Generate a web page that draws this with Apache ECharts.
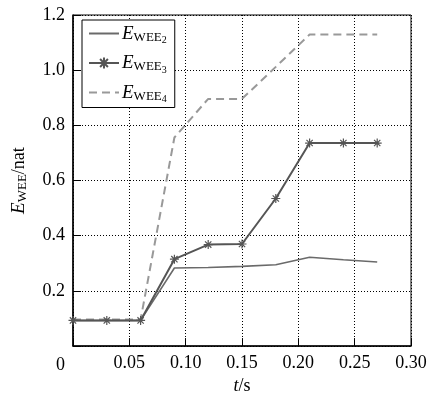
<!DOCTYPE html>
<html>
<head>
<meta charset="utf-8">
<script src="https://cdn.jsdelivr.net/npm/echarts@6/dist/echarts.min.js"></script>
<style>
  html, body { margin: 0; padding: 0; background: #fff; }
  #chart { width: 430px; height: 400px; }
</style>
</head>
<body>
<div id="chart"></div>
<script>
// time axis (s)
var tValues = [0, 0.03, 0.06, 0.09, 0.12, 0.15, 0.18, 0.21, 0.24, 0.27];
// wavelet energy entropy, nat
var wee2 = [0.093, 0.093, 0.093, 0.283, 0.285, 0.289, 0.295, 0.322, 0.313, 0.305];
var wee3 = [0.093, 0.093, 0.093, 0.315, 0.368, 0.370, 0.535, 0.736, 0.736, 0.736];
var wee4 = [0.096, 0.096, 0.096, 0.756, 0.896, 0.896, 1.012, 1.129, 1.129, 1.129];
var xTicks = [0, 0.05, 0.10, 0.15, 0.20, 0.25, 0.30];
var yTicks = [0, 0.2, 0.4, 0.6, 0.8, 1.0, 1.2];
var seriesNames = ["WEE2", "WEE3", "WEE4"];

function pairs(ys) {
  var out = [];
  for (var i = 0; i < tValues.length; i++) {
    out.push([tValues[i], ys[i]]);
  }
  return out;
}

var font = "Liberation Serif";
var star = "path://M0,-10L0,10M-10,0L10,0M-7,-7L7,7M-7,7L7,-7";
var hidden = { color: "transparent", borderColor: "transparent", borderWidth: 0 };

var legendRich = {
  e: { fontFamily: font, fontSize: 19, fontStyle: "italic", color: "#000", lineHeight: 22 },
  s: { fontFamily: font, fontSize: 13, color: "#000", padding: [8, 0, 0, 0] },
  d: { fontFamily: font, fontSize: 10, color: "#000", padding: [14, 0, 0, 0] }
};

var option = {
  animation: false,
  grid: {
    left: 73, right: 19, top: 15, bottom: 47,
    show: true, borderColor: "#000", borderWidth: 1, backgroundColor: "#fff"
  },
  legend: {
    orient: "vertical",
    left: 82, top: 20,
    padding: [4, 8, 3, 6],
    itemWidth: 30, itemHeight: 14, itemGap: 8,
    backgroundColor: "#fff",
    borderColor: "#000", borderWidth: 1,
    data: [
      { name: seriesNames[0], itemStyle: hidden },
      { name: seriesNames[1] },
      { name: seriesNames[2], itemStyle: hidden }
    ],
    formatter: function (name) {
      return "{e|E}{s|WEE}{d|" + name.slice(3) + "}";
    },
    textStyle: { rich: legendRich, padding: [0, 0, 0, -2] }
  },
  xAxis: {
    type: "value",
    min: 0, max: 0.3, interval: 0.05,
    name: "{i|t}{n|/s}",
    nameLocation: "middle",
    nameGap: 28,
    nameTextStyle: {
      rich: {
        i: { fontFamily: font, fontSize: 18, fontStyle: "italic", color: "#000" },
        n: { fontFamily: font, fontSize: 18, color: "#000" }
      }
    },
    axisLine: { lineStyle: { color: "#000", width: 1.5 } },
    axisTick: { inside: true, length: 8, lineStyle: { color: "#000" } },
    axisLabel: {
      fontFamily: font, fontSize: 18, color: "#000", margin: 8,
      formatter: function (v) {
        if (v === 0) return "";
        return v.toFixed(2);
      }
    },
    splitLine: { show: true, lineStyle: { color: "#000", type: [1, 2], width: 1 } }
  },
  yAxis: {
    type: "value",
    min: 0, max: 1.2, interval: 0.2,
    name: "{e|E}{s|WEE}{n|/nat}",
    nameLocation: "middle",
    nameRotate: 90,
    nameGap: 43,
    nameTextStyle: {
      rich: {
        e: { fontFamily: font, fontSize: 19, fontStyle: "italic", color: "#000", lineHeight: 22 },
        s: { fontFamily: font, fontSize: 13, color: "#000", padding: [8, 0, 0, 0] },
        n: { fontFamily: font, fontSize: 18, color: "#000" }
      }
    },
    axisLine: { show: true, lineStyle: { color: "#000", width: 1.5 } },
    axisTick: { show: true, inside: true, length: 8, lineStyle: { color: "#000" } },
    axisLabel: {
      fontFamily: font, fontSize: 18, color: "#000", margin: 8,
      formatter: function (v) {
        if (v === 0) return "{a| }{z|0}";
        return v.toFixed(1);
      },
      rich: {
        a: { fontSize: 1, lineHeight: 56, width: 0 },
        z: { fontFamily: font, fontSize: 18, color: "#000", lineHeight: 18, verticalAlign: "bottom" }
      }
    },
    splitLine: { show: true, lineStyle: { color: "#000", type: [1, 2], width: 1 } }
  },
  series: [
    {
      name: seriesNames[0],
      type: "line",
      data: pairs(wee2),
      symbol: "none",
      lineStyle: { color: "#6a6a6a", width: 1.6 },
      itemStyle: { color: "#6a6a6a" },
      z: 3
    },
    {
      name: seriesNames[1],
      type: "line",
      data: pairs(wee3),
      symbol: star,
      symbolSize: 9,
      lineStyle: { color: "#555", width: 2 },
      itemStyle: { color: "#555", borderColor: "#555", borderWidth: 1.2 },
      z: 4
    },
    {
      name: seriesNames[2],
      type: "line",
      data: pairs(wee4),
      symbol: "none",
      lineStyle: { color: "#999", width: 2, type: [8, 5] },
      itemStyle: { color: "#999" },
      z: 2
    }
  ]
};

var myChart = echarts.init(document.getElementById("chart"));
myChart.setOption(option);
</script>
</body>
</html>
